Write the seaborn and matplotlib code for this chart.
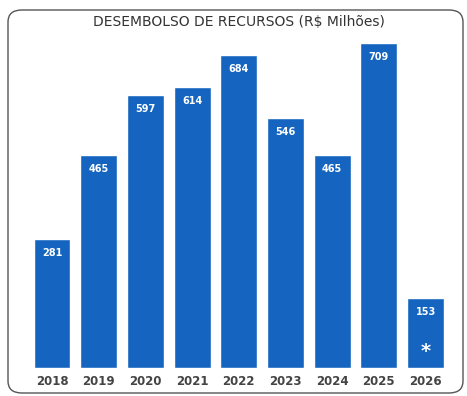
import matplotlib
matplotlib.use("Agg")
import matplotlib.pyplot as plt
from matplotlib.patches import FancyBboxPatch
import seaborn as sns
import pandas as pd

years = ["2018", "2019", "2020", "2021", "2022", "2023", "2024", "2025", "2026"]
values = [281, 465, 597, 614, 684, 546, 465, 709, 153]
title = "DESEMBOLSO DE RECURSOS (R\\$ Milhões)"

sns.set_theme(style="white")
plt.rcParams['font.family'] = ['DejaVu Sans']

W, H = 467, 396
fig = plt.figure(figsize=(W / 100, H / 100), dpi=100)
fig.patch.set_facecolor("white")

# rounded frame
frame = FancyBboxPatch((8 / W, 3 / H), (455 / W), (383 / H),
                       boxstyle="round,pad=0,rounding_size=0.03",
                       transform=fig.transFigure, facecolor="white",
                       edgecolor="#555555", linewidth=1.0, zorder=-10)
fig.patches.append(frame)

left_px, right_px = 26.3, 451.3
bottom_px, top_px = 368, 20
ax = fig.add_axes([left_px / W, 1 - bottom_px / H, (right_px - left_px) / W, (bottom_px - top_px) / H])
ax.patch.set_alpha(0)
ax.set_zorder(5)

df = pd.DataFrame({"year": years, "value": values})
sns.barplot(data=df, x="year", y="value", color="#1565c0", saturation=1, width=0.79, ax=ax)

ax.set_xlim(-0.55, 8.55)
ax.set_ylim(0, 760)
for s in ax.spines.values():
    s.set_visible(False)
ax.set_yticks([])
ax.set_xlabel("")
ax.set_ylabel("")
ax.tick_params(axis="x", length=0, pad=5, labelsize=8.5, labelcolor="#444444")
for t in ax.get_xticklabels():
    t.set_fontweight("bold")

for i, v in enumerate(values):
    ax.annotate(str(v), (i, v), xytext=(0, -10), textcoords="offset points",
                ha="center", va="center", color="white", fontsize=7, fontweight="bold")
ax.annotate("*", (8, 0), xytext=(0, 12), textcoords="offset points",
            ha="center", va="center", color="white", fontsize=14, fontweight="bold")

fig.text(239 / W, 1 - 22 / H, title, ha="center", va="center", fontsize=10, color="#333333")

fig.savefig("out.png", dpi=100)
